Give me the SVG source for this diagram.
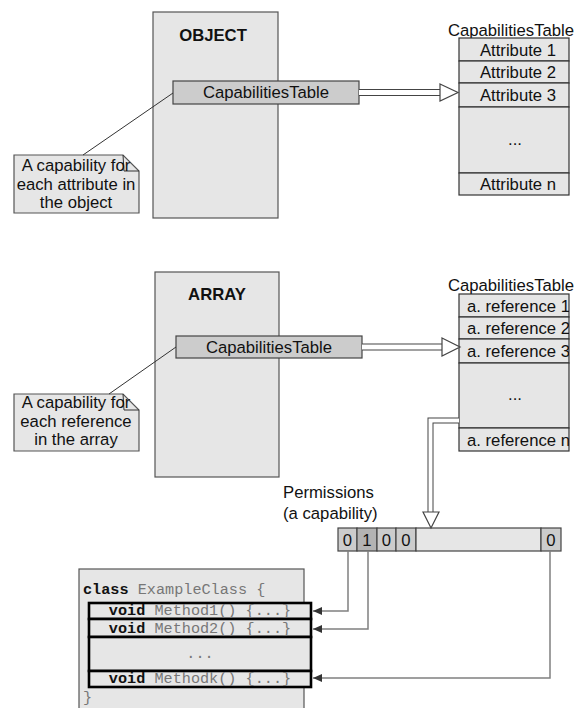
<svg xmlns="http://www.w3.org/2000/svg" width="582" height="708" viewBox="0 0 582 708">
<style>
.t{font-family:"Liberation Sans",Arial,sans-serif;font-size:16.7px;fill:#111}
.b{font-weight:bold}
.m{font-family:"Liberation Mono","Courier New",monospace;font-size:15.2px;fill:#777}
.k{font-weight:bold;fill:#111}
.box{fill:#e6e6e6;stroke:#555;stroke-width:1.2}
.bar{fill:#cccccc;stroke:#444;stroke-width:1.2}
.cell{fill:#cccccc;stroke:#444;stroke-width:1.2}
.row{fill:#e6e6e6;stroke:#333;stroke-width:1.2}
.thin{fill:none;stroke:#333;stroke-width:1}
.dbo{fill:none;stroke:#444}
.dbi{fill:none;stroke:#fff}
.head{fill:#fff;stroke:#444;stroke-width:1.2}
.lnk{fill:none;stroke:#808080;stroke-width:1.5}
.meth{fill:#e6e6e6;stroke:#000;stroke-width:2.6}
</style>
<defs>
<marker id="ah" markerWidth="10" markerHeight="10" refX="9" refY="4" orient="auto" markerUnits="userSpaceOnUse">
<path d="M0,0 L9,4 L0,8 Z" fill="#333"/>
</marker>
<clipPath id="clipA"><rect x="459" y="290" width="110" height="170"/></clipPath>
</defs>

<!-- OBJECT part -->
<g id="object">
<rect class="box" x="153" y="12" width="125" height="206"/>
<text class="t b" x="213" y="41" text-anchor="middle">OBJECT</text>
</g>
<g id="object-cap">
<rect class="bar" x="173" y="81" width="186" height="23"/>
<text class="t" x="266" y="98" text-anchor="middle">CapabilitiesTable</text>
</g>
<g id="note1">
<path class="box" d="M14,155 H123 L139,171 V213 H14 Z"/>
<path class="thin" d="M123,155 L124,171 H139"/>
<text class="t" x="76" y="171" text-anchor="middle">A capability for</text>
<text class="t" x="76" y="190" text-anchor="middle">each attribute in</text>
<text class="t" x="76" y="208" text-anchor="middle">the object</text>
</g>
<g id="table1">
<text class="t" x="511" y="36" text-anchor="middle">CapabilitiesTable</text>
<rect class="row" x="459" y="38" width="110" height="23"/>
<rect class="row" x="459" y="61" width="110" height="22"/>
<rect class="row" x="459" y="83" width="110" height="24"/>
<rect class="row" x="459" y="107" width="110" height="66"/>
<rect class="row" x="459" y="173" width="110" height="22"/>
<text class="t" x="518" y="55.5" text-anchor="middle">Attribute 1</text>
<text class="t" x="518" y="78" text-anchor="middle">Attribute 2</text>
<text class="t" x="518" y="101" text-anchor="middle">Attribute 3</text>
<text class="t" x="515" y="145" text-anchor="middle">...</text>
<text class="t" x="518" y="190" text-anchor="middle">Attribute n</text>
</g>

<!-- ARRAY part -->
<g id="array">
<rect class="box" x="155" y="272" width="124" height="205"/>
<text class="t b" x="217" y="300" text-anchor="middle">ARRAY</text>
</g>
<g id="array-cap">
<rect class="bar" x="176" y="336" width="186" height="22"/>
<text class="t" x="269" y="353" text-anchor="middle">CapabilitiesTable</text>
</g>
<g id="note2">
<path class="box" d="M14,394 H123 L139,410 V451 H14 Z"/>
<path class="thin" d="M123,394 L124,410 H139"/>
<text class="t" x="76" y="408" text-anchor="middle">A capability for</text>
<text class="t" x="76" y="427" text-anchor="middle">each reference</text>
<text class="t" x="76" y="445" text-anchor="middle">in the array</text>
</g>
<g id="table2">
<text class="t" x="511" y="291" text-anchor="middle">CapabilitiesTable</text>
<rect class="row" x="459" y="294" width="110" height="23"/>
<rect class="row" x="459" y="317" width="110" height="22"/>
<rect class="row" x="459" y="339" width="110" height="24"/>
<rect class="row" x="459" y="363" width="110" height="65"/>
<rect class="row" x="459" y="428" width="110" height="23"/>
<g clip-path="url(#clipA)">
<text class="t" x="467" y="311.5">a. reference 1</text>
<text class="t" x="467" y="334">a. reference 2</text>
<text class="t" x="467" y="357">a. reference 3</text>
<text class="t" x="467" y="445.5">a. reference n</text>
</g>
<text class="t" x="515" y="400" text-anchor="middle">...</text>
</g>

<!-- Permissions -->
<g id="permissions">
<text class="t" x="283" y="498">Permissions</text>
<text class="t" x="283" y="519">(a capability)</text>
<rect class="cell" x="338" y="528" width="19" height="23"/>
<rect class="cell" x="357" y="528" width="20" height="23" style="fill:#b3b3b3"/>
<rect class="cell" x="377" y="528" width="19" height="23"/>
<rect class="cell" x="396" y="528" width="20" height="23"/>
<rect class="cell" x="416" y="528" width="125" height="23" style="fill:#e6e6e6"/>
<rect class="cell" x="541" y="528" width="20" height="23"/>
<text class="t" x="347.5" y="545.5" text-anchor="middle">0</text>
<text class="t" x="367" y="545.5" text-anchor="middle">1</text>
<text class="t" x="386.5" y="545.5" text-anchor="middle">0</text>
<text class="t" x="406" y="545.5" text-anchor="middle">0</text>
<text class="t" x="551" y="545.5" text-anchor="middle">0</text>
</g>

<!-- Class -->
<g id="example-class">
<rect class="box" x="79" y="569" width="225" height="145"/>
<text class="m" x="83" y="594"><tspan class="k">class</tspan> ExampleClass {</text>
<rect class="meth" x="89" y="603" width="222" height="16"/>
<rect class="meth" x="89" y="619" width="222" height="18"/>
<rect class="meth" x="89" y="637" width="222" height="34"/>
<rect class="meth" x="89" y="671" width="222" height="16"/>
<text class="m" x="200" y="615" text-anchor="middle"><tspan class="k">void</tspan> Method1() {...}</text>
<text class="m" x="200" y="632.5" text-anchor="middle"><tspan class="k">void</tspan> Method2() {...}</text>
<text class="m" x="200" y="658" text-anchor="middle">...</text>
<text class="m" x="200" y="683" text-anchor="middle"><tspan class="k">void</tspan> Methodk() {...}</text>
<text class="m" x="83" y="702">}</text>
</g>

<!-- Connectors -->
<g id="connectors">
<line class="thin" x1="83" y1="155" x2="173" y2="93"/>
<line class="thin" x1="109" y1="394" x2="176" y2="347"/>

<path class="dbo" stroke-width="7" d="M359,92.5 H441"/>
<path class="dbi" stroke-width="5" d="M359,92.5 H441"/>
<polygon class="head" points="440,84 458,92.5 440,101"/>

<path class="dbo" stroke-width="7" d="M362,347 H443"/>
<path class="dbi" stroke-width="5" d="M362,347 H443"/>
<polygon class="head" points="442,338 460,347 442,356"/>

<path class="dbo" stroke-width="6" d="M459,420.5 H430.5 V513"/>
<path class="dbi" stroke-width="4" d="M459,420.5 H430.5 V513"/>
<polygon class="head" points="423,512 439,512 431,528"/>

<path class="lnk" d="M348,551 V611 H313" marker-end="url(#ah)"/>
<path class="lnk" d="M368,551 V629 H313" marker-end="url(#ah)"/>
<path class="lnk" d="M550,551 V678 H313" marker-end="url(#ah)"/>
</g>
</svg>
